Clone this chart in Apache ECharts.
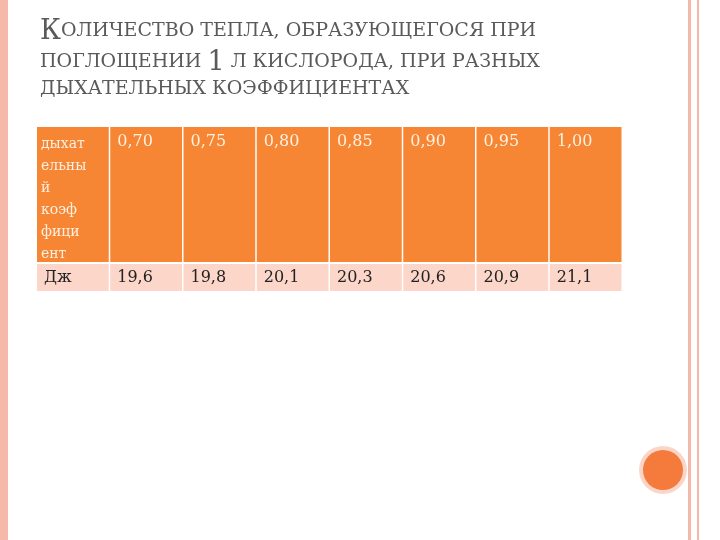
<!DOCTYPE html>
<html>
<head>
<meta charset="utf-8">
<script src="https://cdn.jsdelivr.net/npm/echarts@6/dist/echarts.min.js"></script>
<style>html,body{margin:0;padding:0;background:#fff}#main{width:720px;height:540px}</style>
</head>
<body>
<div id="main"></div>
<script>
// данные таблицы
var rowLabels = ['дыхат\nельны\nй\nкоэф\nфици\nент', 'Дж'];
var coefficients = ['0,70', '0,75', '0,80', '0,85', '0,90', '0,95', '1,00'];
var heatValues = ['19,6', '19,8', '20,1', '20,3', '20,6', '20,9', '21,1'];

var myChart = echarts.init(document.getElementById('main'));

// строки: [начало, конец] по оси y
var rowSpans = [[0, 135], [137, 164]];
var cells = [];
[[rowLabels[0]].concat(coefficients), [rowLabels[1]].concat(heatValues)].forEach(function (row, r) {
    row.forEach(function (txt, c) {
        cells.push([c, rowSpans[r][0], rowSpans[r][1], txt, r]);
    });
});

var sc = function (big, y) {
    return {
        type: 'text', left: 40, top: y,
        style: {
            text: big, fill: '#5a5a5a',
            rich: {
                b: {fontSize: 27, fontFamily: 'DejaVu Serif', fill: '#5a5a5a'},
                s: {fontSize: 19, fontFamily: 'DejaVu Serif', fill: '#5a5a5a'}
            }
        }
    };
};

var option = {
    animation: false,
    grid: {left: 37, right: 97, top: 127, bottom: 249},
    xAxis: {type: 'value', min: 0, max: 8, show: false},
    yAxis: {type: 'value', min: 0, max: 164, inverse: true, show: false},
    graphic: [
        {type: 'rect', shape: {x: 0, y: 0, width: 8, height: 540}, style: {fill: '#f4b9a8'}},
        {type: 'rect', shape: {x: 688, y: 0, width: 3, height: 540}, style: {fill: '#f4b9a8'}},
        {type: 'rect', shape: {x: 697, y: 0, width: 2, height: 540}, style: {fill: '#f4b9a8'}},
        {type: 'circle', shape: {cx: 663, cy: 470, r: 24}, style: {fill: '#fbd6c8'}},
        {type: 'circle', shape: {cx: 663, cy: 470, r: 20}, style: {fill: '#f47b3b'}},
        sc('{b|К}{s|ОЛИЧЕСТВО ТЕПЛА, ОБРАЗУЮЩЕГОСЯ ПРИ}', 18),
        sc('{s|ПОГЛОЩЕНИИ }{b|1}{s| Л КИСЛОРОДА, ПРИ РАЗНЫХ}', 49),
        sc('{s|ДЫХАТЕЛЬНЫХ КОЭФФИЦИЕНТАХ}', 80)
    ],
    series: [{
        type: 'custom',
        data: cells,
        renderItem: function (params, api) {
            var c = api.value(0);
            var p0 = api.coord([c, api.value(1)]);
            var p1 = api.coord([c + 1, api.value(2)]);
            var r = api.value(4);
            var first = c === 0 && r === 0;
            return {
                type: 'group',
                children: [{
                    type: 'rect',
                    shape: {x: p0[0], y: p0[1], width: p1[0] - p0[0] - 1.5, height: p1[1] - p0[1]},
                    style: {fill: r === 0 ? '#f68534' : '#fbd6c9'}
                }, {
                    type: 'text',
                    x: p0[0] + (first ? 4 : 7), y: p0[1] + (r === 0 ? 6 : 5),
                    style: {
                        text: cells[params.dataIndex][3],
                        fill: r === 0 ? '#fff0e0' : '#222',
                        font: (first ? '14px' : '16px') + ' "DejaVu Serif", serif',
                        lineHeight: first ? 22 : 18
                    }
                }]
            };
        }
    }]
};

myChart.setOption(option);
</script>
</body>
</html>
